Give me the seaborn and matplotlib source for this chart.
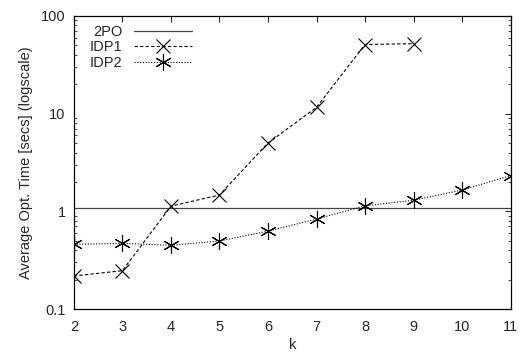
import matplotlib
matplotlib.use("Agg")
import matplotlib.pyplot as plt
import seaborn as sns
import pandas as pd
from matplotlib.ticker import LogLocator, NullFormatter, FixedLocator

k = [2, 3, 4, 5, 6, 7, 8, 9, 10, 11]
k_idp1 = [2, 3, 4, 5, 6, 7, 8, 9]
two_po = [1.07] * len(k)
idp1 = [0.218, 0.247, 1.13, 1.47, 5.0, 11.6, 51.0, 52.0]
idp2 = [0.459, 0.47, 0.449, 0.497, 0.627, 0.834, 1.14, 1.30, 1.65, 2.32]
y_ticks = [0.1, 1, 10, 100]
y_ticklabels = ["0.1", "1", "10", "100"]

df_2po = pd.DataFrame({"k": k, "t": two_po})
df_1 = pd.DataFrame({"k": k_idp1, "t": idp1})
df_2 = pd.DataFrame({"k": k, "t": idp2})

sns.set_style("white")
plt.rcParams["font.family"] = ["Liberation Sans", "DejaVu Sans"]
FS = 10.5
plt.rcParams["font.size"] = FS

fig = plt.figure(figsize=(5.2, 3.54), dpi=100)
ax = fig.add_axes([0.142, 0.127, 0.840, 0.828])

sns.lineplot(data=df_2po, x="k", y="t", ax=ax, color="#444444", lw=0.9,
             label="2PO")
sns.lineplot(data=df_1, x="k", y="t", ax=ax, color="black", lw=0.8,
             linestyle=(0, (3, 2)), marker="x", markersize=10,
             markeredgewidth=0.8, markeredgecolor="black", label="IDP1")
sns.lineplot(data=df_2, x="k", y="t", ax=ax, color="black", lw=0.8,
             linestyle=(0, (1, 1.5)), marker=(6, 2, 0), markersize=12,
             markeredgewidth=0.8, markeredgecolor="black", label="IDP2")

ax.set_yscale("log")
ax.set_ylim(0.1, 100)
ax.set_xlim(2, 11)
ax.set_xticks(k)
ax.set_xticklabels([str(v) for v in k])
ax.yaxis.set_major_locator(FixedLocator(y_ticks))
ax.set_yticklabels(y_ticklabels)
ax.yaxis.set_minor_locator(LogLocator(base=10, subs=range(2, 10)))
ax.yaxis.set_minor_formatter(NullFormatter())

ax.tick_params(axis="both", which="major", direction="in", length=4,
               width=0.8, top=True, right=True, labelsize=FS, pad=6)
ax.tick_params(axis="x", which="major", pad=8)
ax.tick_params(axis="y", which="minor", direction="in", length=2,
               width=0.6, left=True, right=True)
for s in ax.spines.values():
    s.set_color("black")
    s.set_linewidth(0.9)

ax.set_xlabel("k", fontsize=FS, labelpad=3)
ax.set_ylabel("Average Opt. Time [secs] (logscale)", fontsize=FS, labelpad=6)

leg = ax.legend(loc="upper left", frameon=False, markerfirst=False,
                handlelength=4.0, borderaxespad=0.1, labelspacing=0.12,
                fontsize=FS, handletextpad=0.8, bbox_to_anchor=(0.02, 0.995))

fig.savefig("out.png", dpi=100)
